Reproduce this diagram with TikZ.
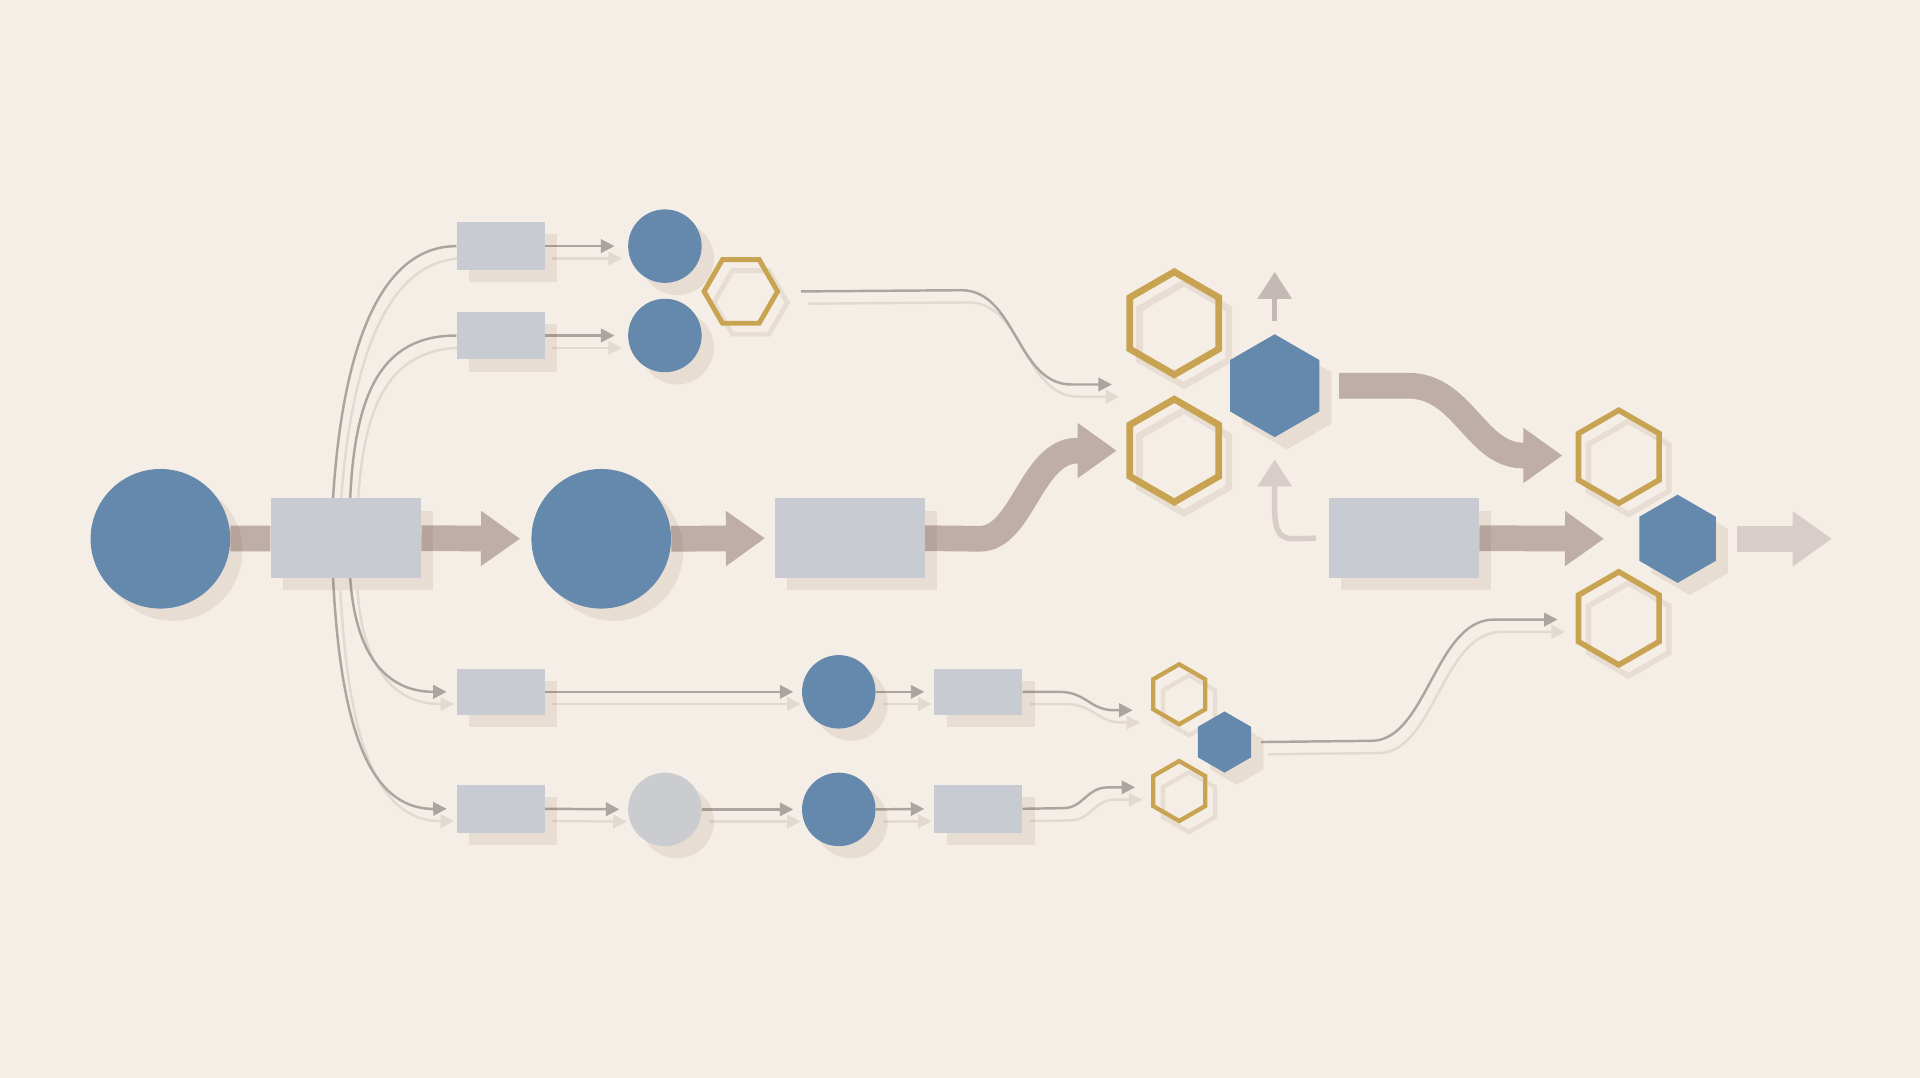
\documentclass[tikz,border=0pt]{standalone}
\usetikzlibrary{arrows.meta,shapes.geometric}
\definecolor{bgC}{RGB}{245,238,230}
\definecolor{blueC}{RGB}{101,136,173}
\definecolor{grayC}{RGB}{200,204,210}
\definecolor{lgrayC}{RGB}{203,204,208}
\definecolor{goldC}{RGB}{200,163,82}
\definecolor{arrC}{RGB}{190,173,168}
\definecolor{arrL}{RGB}{216,205,200}
\definecolor{arrM}{RGB}{196,185,180}
\definecolor{lineC}{RGB}{172,164,160}
\definecolor{lineS}{RGB}{226,218,210}
\definecolor{shC}{RGB}{120,90,50}
\pgfdeclarelayer{bgl}
\pgfdeclarelayer{lines}
\pgfsetlayers{bgl,lines,main}
\tikzset{
  shd/.style={preaction={fill=shC, fill opacity=0.11, transform canvas={shift={(10pt,-10pt)}}}},
  shdo/.style={preaction={draw=shC, draw opacity=0.11, transform canvas={shift={(8pt,-9pt)}}}},
  blob/.style={circle, fill=blueC, draw=none, inner sep=0, minimum size=#1, shd},
  gblob/.style={circle, fill=lgrayC, draw=none, inner sep=0, minimum size=#1, shd},
  rbox/.style={rectangle, fill=grayC, draw=none, inner sep=0, shd},
  hexo/.style={regular polygon, regular polygon sides=6, shape border rotate=30, draw=goldC, inner sep=0, minimum size=#1, shdo},
  hexof/.style={regular polygon, regular polygon sides=6, draw=goldC, inner sep=0, minimum size=#1, shdo},
  hexf/.style={regular polygon, regular polygon sides=6, shape border rotate=30, fill=blueC, draw=none, inner sep=0, minimum size=#1, shd},
  thk/.style={draw=arrC, line width=21pt, -{Triangle[length=32pt,width=43pt]}},
  thkn/.style={draw=arrC, line width=21pt},
  upar/.style={line width=4.5pt, -{Triangle[length=22pt,width=27pt]}},
}
\newcommand{\thinconns}{%
  \draw[tA, shorten >=11pt] (t1.east) -- (tc1.west);
  \draw[tA, shorten >=11pt] (t2.east) -- (tc2.west);
  \draw[tA] ([xshift=17pt]th.east) -- (785,237) .. controls (830,237) and (830,314) .. (875,314) -- (p3);
  \draw[tB] ([xshift=-10.5pt]r1.north) .. controls (280,280) and (312,201) .. (t1.west);
  \draw[tB] ([xshift=3.5pt]r1.north) .. controls (290,320) and (312,274) .. (t2.west);
  \draw[tA] ([xshift=3.5pt]r1.south) .. controls (290,530) and (312,565) .. ([xshift=-8pt]b1.west);
  \draw[tA] ([xshift=-10.5pt]r1.south) .. controls (278,590) and (300,661) .. ([xshift=-8pt]b3.west);
  \draw[tA, shorten >=7pt] (b1.east) -- (bc1.west);
  \draw[tA, shorten >=8pt] (bc1.east) -- (b2.west);
  \draw[tA] (b2.east) -- (865,565) .. controls (887,565) and (890,580) .. (910,580) -- (p10);
  \draw[tA, shorten >=7pt] (b3.east) -- (bc2.west);
  \draw[tA, shorten >=7pt] (bc2.east) -- (bc3.west);
  \draw[tA, shorten >=8pt] (bc3.east) -- (b4.west);
  \draw[tA] (b4.east) -- (868,660) .. controls (885,660) and (887,643) .. (905,643) -- (p14);
  \draw[tA] ([xshift=8pt]bh3.east) -- (1120,605) .. controls (1165,605) and (1172,506) .. (1220,506) -- (p15);
}
\begin{document}
\begin{tikzpicture}[x=1pt, y=-1pt]
\useasboundingbox (0,0) rectangle (1568,880);
\begin{pgfonlayer}{bgl}
  \fill[bgC] (0,0) rectangle (1568,880);
\end{pgfonlayer}

% main row
\node[blob=114] (c1) at (131,440) {};
\node[rbox, minimum width=123pt, minimum height=65pt] (r1) at (282.5,439.5) {};
\node[blob=114] (c2) at (491,440) {};
\node[rbox, minimum width=122pt, minimum height=65pt] (r2) at (694,439.5) {};
\node[hexo=84, line width=5.5pt] (h1) at (959,264) {};
\node[hexo=84, line width=5.5pt] (h2) at (959,368) {};
\node[hexf=84] (h3) at (1041,315) {};
\node[rbox, minimum width=123pt, minimum height=65pt] (r3) at (1146.5,439.5) {};
\node[hexo=76, line width=4.5pt] (h4) at (1322,373) {};
\node[hexf=72] (h5) at (1370,440) {};
\node[hexo=76, line width=4.5pt] (h6) at (1322,505) {};

% top branch
\node[rbox, minimum width=72pt, minimum height=39pt] (t1) at (409,201) {};
\node[rbox, minimum width=72pt, minimum height=39pt] (t2) at (409,274) {};
\node[blob=60] (tc1) at (543,201) {};
\node[blob=60] (tc2) at (543,274) {};
\node[hexof=60, line width=4pt] (th) at (605,238) {};

% bottom rows
\node[rbox, minimum width=72pt, minimum height=38pt] (b1) at (409,565) {};
\node[blob=60] (bc1) at (685,565) {};
\node[rbox, minimum width=72pt, minimum height=38pt] (b2) at (799,565) {};
\node[hexo=49, line width=3.5pt] (bh1) at (963,567) {};
\node[hexf=50] (bh3) at (1000,606) {};
\node[hexo=49, line width=3.5pt] (bh2) at (963,646) {};
\node[rbox, minimum width=72pt, minimum height=39pt] (b3) at (409,660.5) {};
\node[gblob=60] (bc2) at (543,661) {};
\node[blob=60] (bc3) at (685,661) {};
\node[rbox, minimum width=72pt, minimum height=39pt] (b4) at (799,660.5) {};

% free ends
\coordinate (p3) at (908,314);
\coordinate (p10) at (925,580);
\coordinate (p14) at (927,643);
\coordinate (p15) at (1272,506);
\coordinate (a5) at (912,368);
\coordinate (a6) at (1276,372);
\coordinate (a7) at (1310,440);
\coordinate (a8) at (1496,440);
\coordinate (a9) at (1041,222);

\begin{pgfonlayer}{lines}
  \begin{scope}[transform canvas={shift={(6pt,-10pt)}},
      tA/.style={draw=lineS, line width=2pt, -{Triangle[length=11pt,width=11pt]}},
      tB/.style={draw=lineS, line width=2pt}]
    \thinconns
  \end{scope}
  \begin{scope}[
      tA/.style={draw=lineC, line width=2pt, -{Triangle[length=11pt,width=11pt]}},
      tB/.style={draw=lineC, line width=2pt}]
    \thinconns
  \end{scope}
  % thick arrows
  \draw[thkn] (c1) -- (r1);
  \draw[thk, shorten >=9pt] (r1.east) -- (c2.west);
  \draw[thk, shorten >=8pt] (c2.east) -- (r2.west);
  \draw[thk] (r2.east) -- (800,440) .. controls (835,440) and (842,368) .. (880,368) -- (a5);
  \draw[thk] ([xshift=16pt]h3.east) -- (1150,315) .. controls (1195,315) and (1205,372) .. (1244,372) -- (a6);
  \draw[thk] (r3.east) -- (a7);
  \draw[thk, draw=arrL] ([xshift=17pt]h5.east) -- (a8);
  % small up arrows at central hexagon
  \draw[upar, draw=arrM] ([yshift=11pt]h3.north) -- (a9);
  \draw[upar, draw=arrL] ([xshift=-10pt]r3.west) -- (1056,440) .. controls (1043,440) and (1041,430) .. (1041,416) -- ([yshift=-18pt]h3.south);
\end{pgfonlayer}
\end{tikzpicture}
\end{document}
